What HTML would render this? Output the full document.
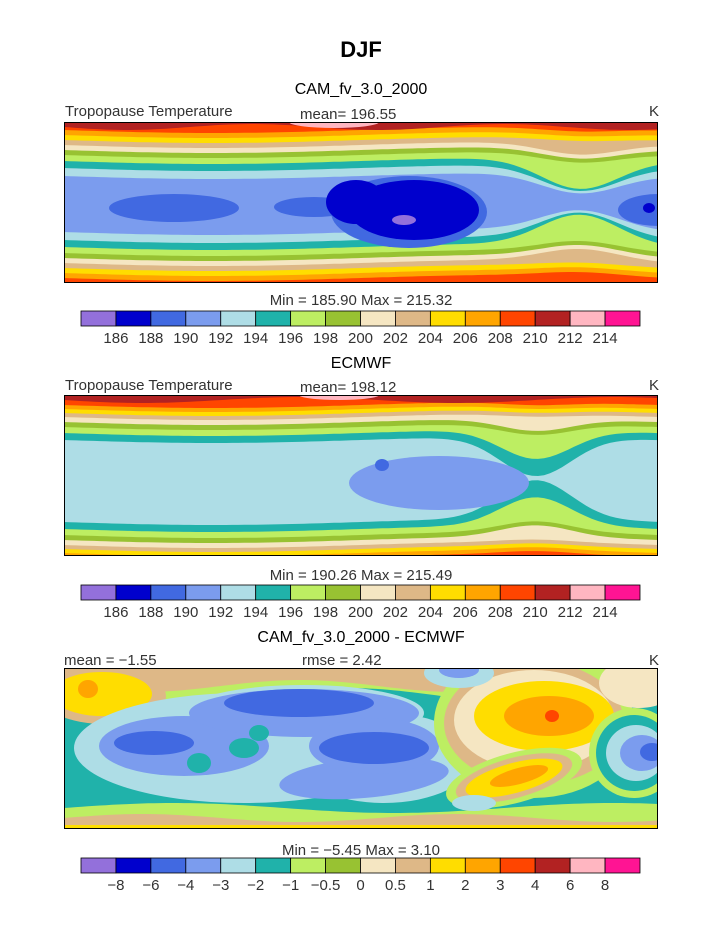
<!DOCTYPE html>
<html><head><meta charset="utf-8"><style>
body{margin:0;background:#fff;width:723px;height:935px;overflow:hidden;font-family:"Liberation Sans",sans-serif;}
svg{position:absolute;left:0;top:0}
</style></head><body>
<svg id="s" width="723" height="935" xmlns="http://www.w3.org/2000/svg" font-family="Liberation Sans, sans-serif">
<text x="361" y="57" text-anchor="middle" font-size="22" font-weight="bold">DJF</text>
<text x="361" y="94" text-anchor="middle" font-size="16">CAM_fv_3.0_2000</text>
<text x="361" y="368" text-anchor="middle" font-size="16">ECMWF</text>
<text x="361" y="642" text-anchor="middle" font-size="16">CAM_fv_3.0_2000 - ECMWF</text>
<g fill="#333" font-size="15">
<text x="65" y="116">Tropopause Temperature</text><text x="300" y="119">mean= 196.55</text><text x="649" y="116">K</text>
<text x="361" y="305" text-anchor="middle">Min = 185.90 Max = 215.32</text>
<text x="65" y="390">Tropopause Temperature</text><text x="300" y="392">mean= 198.12</text><text x="649" y="390">K</text>
<text x="361" y="580" text-anchor="middle">Min = 190.26 Max = 215.49</text>
<text x="64" y="665">mean =   −1.55</text><text x="302" y="665">rmse =    2.42</text><text x="649" y="665">K</text>
<text x="361" y="855" text-anchor="middle">Min =   −5.45 Max =    3.10</text>
</g>
<g id="maps"></g>
</svg>
<script>
var C={pu:"#9370DB",mb:"#0000CD",rb:"#4169E1",cf:"#7B9CEE",lb:"#AEDDE6",sg:"#20B2AA",lg:"#BDEE62",yg:"#98C232",wh:"#F5E6C2",tn:"#DEB887",go:"#FFDD00",or:"#FFA500",rd:"#FF4500",fb:"#B22222",pk:"#FFB6C1",dp:"#FF1493"};
var order=["pu","mb","rb","cf","lb","sg","lg","yg","wh","tn","go","or","rd","fb","pk","dp"];
var svg=document.getElementById("maps"),out="";
var W=594,H=161;
function band(ft,fb,col){var p="M";for(var x=0;x<=W;x+=6)p+=x+","+ft(x).toFixed(1)+" L";for(var x=W;x>=0;x-=6)p+=x+","+fb(x).toFixed(1)+(x>0?" L":"");return '<path d="'+p+'Z" fill="'+C[col]+'"/>';}
function el(cx,cy,rx,ry,col,rot){return '<ellipse cx="'+cx+'" cy="'+cy+'" rx="'+rx+'" ry="'+ry+'" fill="'+C[col]+'"'+(rot?' transform="rotate('+rot+' '+cx+' '+cy+')"':'')+'/>';}
function panel(y0,inner){out+='<svg x="64" y="'+y0+'" width="594" height="161" viewBox="0 0 594 161" overflow="hidden">'+inner+'<rect x="0.5" y="0.5" width="593" height="160" fill="none" stroke="#000"/></svg>';}
// panel 1
var s="";s+='<rect width="594" height="161" fill="'+C.rd+'"/>';
var L1=[["or",74],["go",69],["tn",64],["wh",59],["yg",54],["lg",49],["sg",43],["lb",36],["cf",28]];
function c1(x){return 82+3*Math.sin(x/W*6.28)}
function p1(x){return Math.exp(-Math.pow((x-516)/55,2))}
L1.forEach(function(l){var h=l[1],k=h<45?0.7:(h<60?0.2:0.05);s+=band(function(x){return c1(x)-h*(1-k*p1(x))},function(x){return c1(x)+h*(1-k*p1(x))},l[0]);});
s+=el(110,86,65,14,"rb")+el(594,88,40,16,"rb")+el(250,85,40,10,"rb")+el(345,90,78,36,"rb")+el(350,88,65,30,"mb")+el(292,80,30,22,"mb")+el(585,86,6,5,"mb")+el(340,98,12,5,"pu");
s+=band(function(){return 0},function(x){return 5+3*Math.sin(x/40)},"fb")+el(270,0,45,6,"pk");
panel(122,s);
// panel 2
s='<rect width="594" height="161" fill="'+C.rd+'"/>';
var L2=[["or",76],["go",72],["tn",68],["wh",64],["yg",59],["lg",54],["sg",48],["lb",41]];
function c2(x){return 86+3*Math.sin(x/W*6.28)}
function p2(x){return Math.exp(-Math.pow((x-472)/50,2))}
L2.forEach(function(l){var h=l[1],k=h<45?0.95:(h<50?0.6:(h<60?0.2:0.04));s+=band(function(x){return c2(x)-h*(1-k*p2(x))},function(x){return c2(x)+h*(1-k*p2(x))},l[0]);});
s+=el(375,88,90,27,"cf")+el(318,70,7,6,"rb");
s+=band(function(){return 0},function(x){return 5+3*Math.sin(x/50)},"fb")+el(275,0,40,5,"pk");
panel(395,s);
// panel 3
s='<rect width="594" height="161" fill="'+C.sg+'"/>';
s+=band(function(){return 0},function(x){return 28+8*Math.sin(x/60)},"lg")+band(function(){return 0},function(x){return 18+6*Math.sin(x/50)},"tn");
s+=band(function(x){return 140-5*Math.sin(x/70)},function(){return 161},"lg")+band(function(x){return 150-4*Math.sin(x/50)},function(){return 161},"tn")+band(function(x){return 157},function(){return 161},"go");
s+=el(40,28,62,28,"tn")+el(38,26,50,22,"go")+el(24,21,10,9,"or");
s+=el(180,80,170,55,"lb")+el(320,90,90,45,"lb")+el(240,45,120,28,"lb");
s+=el(120,78,85,30,"cf")+el(240,45,115,24,"cf")+el(300,110,85,20,"cf",-5)+el(310,78,65,28,"cf");
s+=el(90,75,40,12,"rb")+el(235,35,75,14,"rb")+el(310,80,55,16,"rb");
s+=el(180,80,15,10,"sg")+el(135,95,12,10,"sg")+el(195,65,10,8,"sg");
s+=el(470,55,100,75,"lg")+el(470,55,90,62,"tn")+el(470,52,80,50,"wh")+el(480,48,70,35,"go")+el(485,48,45,20,"or")+el(488,48,7,6,"rd");
s+=el(450,110,70,25,"lg",-15)+el(450,110,60,20,"tn",-15)+el(450,110,50,15,"go",-15)+el(455,108,30,8,"or",-15)+el(410,135,22,8,"lb");
s+=el(570,85,45,45,"lg")+el(570,85,38,38,"sg")+el(572,85,30,28,"lb")+el(578,85,22,18,"cf")+el(588,84,12,9,"rb");
s+=el(575,15,40,25,"wh")+el(395,5,35,15,"lb")+el(395,2,20,8,"cf");
panel(668,s);
// colorbars
function cbar(y,labels){var x0=81,w=(640-81)/16;for(var i=0;i<16;i++)out+='<rect x="'+(x0+i*w)+'" y="'+y+'" width="'+w+'" height="15" fill="'+C[order[i]]+'" stroke="#000" stroke-width="0.8"/>';labels.forEach(function(t,i){out+='<text x="'+(x0+(i+1)*w)+'" y="'+(y+32)+'" text-anchor="middle" font-size="15" fill="#333">'+t+'</text>';});}
var tl=["186","188","190","192","194","196","198","200","202","204","206","208","210","212","214"];
cbar(311,tl);cbar(585,tl);
cbar(858,["−8","−6","−4","−3","−2","−1","−0.5","0","0.5","1","2","3","4","6","8"]);
svg.innerHTML=out;
</script>
</body></html>
